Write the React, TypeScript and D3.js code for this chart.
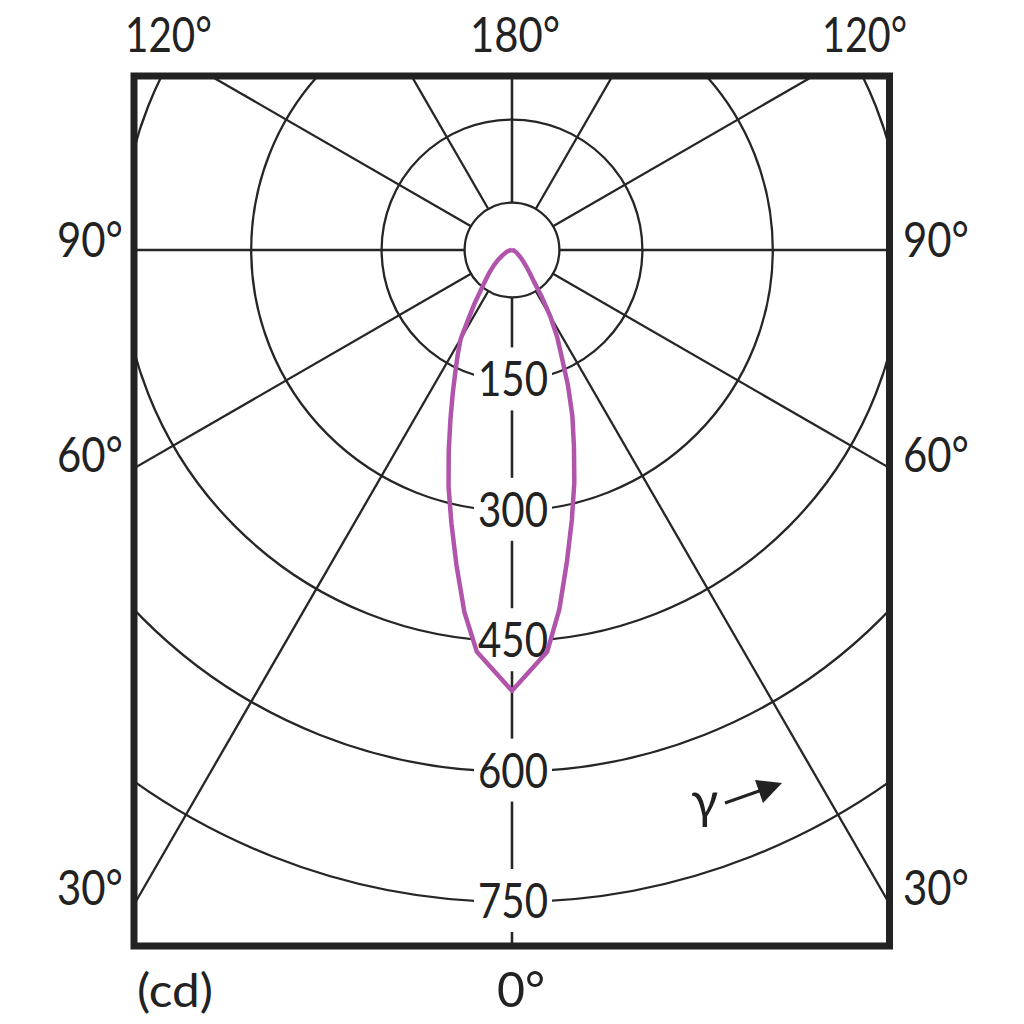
import React from "react";
import * as d3 from "d3";

// Luminous intensity (cd) vs gamma angle (deg from nadir)
const gammaAngles = [0, 5, 7.5, 10, 12.5, 15, 17.5, 20, 22.5, 25, 27.5, 30, 32.5, 35, 37.5, 40, 45, 50, 55, 60, 70, 80, 90];
const intensityLeft = [507, 464, 420, 368, 322, 282, 242, 207, 178, 154, 135, 118, 92, 75, 60, 50, 37, 27, 19, 13, 7, 3, 0];
const intensityRight = [507, 464, 417, 364, 318, 277, 237, 203, 168, 135, 112, 88, 63, 43, 34, 27, 18, 12, 8, 6, 3, 1, 0];

const ringValues = [150, 300, 450, 600, 750];
const ringLabels = ["150", "300", "450", "600", "750"];
const spokeAngles = [0, 30, 60, 90, 120, 150, 180];
const hubValue = 54.5;

const sideAngleLabels = ["90°", "60°", "30°"];
const topAngleLabels = ["120°", "180°", "120°"];
const unitLabel = "(cd)";
const nadirLabel = "0°";
const gammaLabel = "γ";

const W = 1024;
const H = 1024;
const cx = 512;
const cy = 250;
const frame = { x0: 134, x1: 889.5, y0: 76, y1: 946 };
const FONT = "Lato, 'Open Sans', sans-serif";
const INK = "#222";
const GRID = "#262626";
const CURVE = "#b055ab";

export default function App() {
  const r = d3.scaleLinear().domain([0, 750]).range([0, 652]);
  const toRad = (deg: number) => (deg * Math.PI) / 180;

  const leftPts = gammaAngles.map((g, i) => ({ a: Math.PI + toRad(g), v: intensityLeft[i] })).reverse();
  const rightPts = gammaAngles.slice(1).map((g, i) => ({ a: Math.PI - toRad(g), v: intensityRight[i + 1] }));
  const curvePts = [...leftPts, ...rightPts];
  const line = d3
    .lineRadial<{ a: number; v: number }>()
    .angle((d) => d.a)
    .radius((d) => r(d.v))
    .curve(d3.curveLinear);

  const spokes: { x1: number; y1: number; x2: number; y2: number }[] = [];
  [-1, 1].forEach((s) => {
    spokeAngles.forEach((g) => {
      const t = toRad(g);
      spokes.push({
        x1: cx + s * r(hubValue) * Math.sin(t),
        y1: cy + r(hubValue) * Math.cos(t),
        x2: cx + s * 1400 * Math.sin(t),
        y2: cy + 1400 * Math.cos(t),
      });
    });
  });

  const sideY = [240, 455, 888];

  return (
    <svg width={W} height={H} viewBox={`0 0 ${W} ${H}`} style={{ display: "block", position: "absolute", left: 0, top: 0, background: "#fff" }}>
      <defs>
        <clipPath id="frameClip">
          <rect x={frame.x0} y={frame.y0} width={frame.x1 - frame.x0} height={frame.y1 - frame.y0} />
        </clipPath>
      </defs>
      <rect x={0} y={0} width={W} height={H} fill="#fff" />
      <g clipPath="url(#frameClip)">
        {ringValues.map((v) => (
          <circle key={v} cx={cx} cy={cy} r={r(v)} fill="none" stroke={GRID} strokeWidth={2.3} />
        ))}
        <circle cx={cx} cy={cy} r={r(hubValue)} fill="none" stroke={GRID} strokeWidth={2.3} />
        {spokes.map((s, i) => (
          <line key={i} x1={s.x1} y1={s.y1} x2={s.x2} y2={s.y2} stroke={GRID} strokeWidth={2.3} />
        ))}
        {ringValues.map((v, i) => (
          <g key={"lab" + v}>
            <rect x={cx - 38} y={cy + r(v) - 33} width={78} height={63} fill="#fff" />
            <text
              x={cx + 1}
              y={cy + r(v) + 16}
              textAnchor="middle"
              fontFamily={FONT}
              fontSize={48}
              fill={INK}
              textLength={70}
              lengthAdjust="spacingAndGlyphs"
            >
              {ringLabels[i]}
            </text>
          </g>
        ))}
        <path d={line(curvePts) || ""} transform={`translate(${cx},${cy})`} fill="none" stroke={CURVE} strokeWidth={4.5} strokeLinejoin="round" />
      </g>
      <rect x={frame.x0} y={frame.y0} width={frame.x1 - frame.x0} height={frame.y1 - frame.y0} fill="none" stroke={INK} strokeWidth={7} />

      {/* top labels */}
      <text x={125} y={52} fontFamily={FONT} fontSize={48} fill={INK} textLength={87} lengthAdjust="spacingAndGlyphs">{topAngleLabels[0]}</text>
      <text x={470} y={52} fontFamily={FONT} fontSize={48} fill={INK} textLength={90} lengthAdjust="spacingAndGlyphs">{topAngleLabels[1]}</text>
      <text x={822} y={52} fontFamily={FONT} fontSize={48} fill={INK} textLength={85} lengthAdjust="spacingAndGlyphs">{topAngleLabels[2]}</text>

      {/* side labels */}
      {sideAngleLabels.map((t, i) => (
        <g key={t}>
          <text x={57} y={sideY[i] + 17} fontFamily={FONT} fontSize={48} fill={INK} textLength={66} lengthAdjust="spacingAndGlyphs">{t}</text>
          <text x={903} y={sideY[i] + 17} fontFamily={FONT} fontSize={48} fill={INK} textLength={66} lengthAdjust="spacingAndGlyphs">{t}</text>
        </g>
      ))}

      {/* bottom labels */}
      <text x={137} y={1007} fontFamily={FONT} fontSize={46} fill={INK} textLength={76} lengthAdjust="spacingAndGlyphs">{unitLabel}</text>
      <text x={497} y={1007} fontFamily={FONT} fontSize={48} fill={INK} textLength={48} lengthAdjust="spacingAndGlyphs">{nadirLabel}</text>

      {/* gamma direction */}
      <text x={691} y={818} fontFamily={FONT} fontSize={50} fill={INK}>{gammaLabel}</text>
      <line x1={725} y1={803} x2={762} y2={790} stroke={INK} strokeWidth={3} />
      <path d="M782,783 L755,780 L763,803 Z" fill={INK} />
    </svg>
  );
}
